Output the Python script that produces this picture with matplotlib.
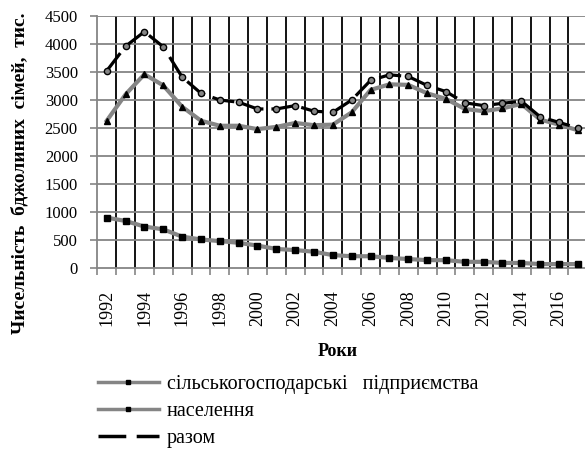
import matplotlib
matplotlib.use("Agg")
import matplotlib.pyplot as plt
from matplotlib.lines import Line2D

plt.rcParams["font.family"] = ["Liberation Serif", "DejaVu Serif"]

years = list(range(1992, 2018))
enterprises = [900, 840, 740, 690, 560, 510, 480, 450, 400, 340, 320, 290, 230,
               210, 210, 180, 160, 140, 140, 110, 110, 90, 90, 70, 70, 70]
households = [2630, 3100, 3460, 3260, 2880, 2630, 2540, 2540, 2480, 2520, 2590,
              2550, 2560, 2780, 3180, 3280, 3270, 3120, 3020, 2840, 2800, 2850,
              2930, 2650, 2560, 2460]
total = [3520, 3960, 4220, 3950, 3410, 3120, 3000, 2960, 2840, 2840, 2900, 2800,
         2780, 3000, 3350, 3450, 3420, 3260, 3150, 2950, 2900, 2940, 2980, 2700,
         2600, 2500]
labels = ["сільськогосподарські   підприємства", "населення", "разом"]
yticks = list(range(0, 5000, 500))

grey = "#858585"

fig = plt.figure(figsize=(5.85, 4.55), dpi=100)
ax = fig.add_axes([97.3 / 585, 1 - 268 / 455, 490 / 585, 252 / 455])

ax.plot(years, enterprises, color=grey, lw=3, marker="s", ms=5,
        mfc="black", mec="black", zorder=3)
ax.plot(years, households, color=grey, lw=3, marker="^", ms=5,
        mfc="black", mec="black", zorder=3)
ax.plot(years, total, color="black", lw=2.3, dashes=(7, 2.5), marker="o",
        ms=4.5, mfc=grey, mec="black", mew=1, zorder=4)

ax.set_xlim(years[0] - 0.5, years[-1] + 0.5)
ax.set_ylim(0, 4500)

# category boundaries: black vertical grid
for b in range(years[0], years[-1] + 1):
    ax.axvline(b + 0.5, color="black", lw=1.3, zorder=1)
for v in yticks[1:]:
    ax.axhline(v, color=grey, lw=1.3, zorder=1)

ax.set_yticks(yticks)
ax.set_xticks([y - 0.5 for y in years] + [years[-1] + 0.5], minor=False)
ax.set_xticklabels([])
ax.set_xticks(years[::2], minor=True)
ax.set_xticklabels([str(y) for y in years[::2]], minor=True, rotation=90,
                   fontsize=13)
ax.tick_params(axis="x", which="major", length=5, width=1.2, color=grey)
ax.tick_params(axis="x", which="minor", length=0, pad=16)
ax.tick_params(axis="y", length=5, width=1.2, color=grey, labelsize=12, pad=9)

for s in ["top", "right"]:
    ax.spines[s].set_visible(False)
for s in ["left", "bottom"]:
    ax.spines[s].set_color(grey)
    ax.spines[s].set_linewidth(1.3)

fig.text(338 / 585, 1 - 352 / 455, "Роки", ha="center", va="center",
         fontsize=13, fontweight="bold")
fig.text(20 / 585, 1 - 13 / 455, "Чисельність  бджолиних  сімей,  тис.",
         rotation=90, ha="center", va="top", fontsize=14, fontweight="bold")

handles = [
    Line2D([], [], color=grey, lw=2.5, marker="s", ms=3, mfc="black", mec="black"),
    Line2D([], [], color=grey, lw=2.5, marker="s", ms=3, mfc="black", mec="black"),
    Line2D([], [], color="black", lw=2.5, dashes=(8, 3)),
]
fig.legend(handles, labels, loc="upper left", bbox_to_anchor=(0.168, 0.176),
           frameon=False, fontsize=14.5, handlelength=3.0, handletextpad=0.4,
           labelspacing=0.4, borderpad=0, borderaxespad=0)

fig.savefig("out.png", dpi=100)
